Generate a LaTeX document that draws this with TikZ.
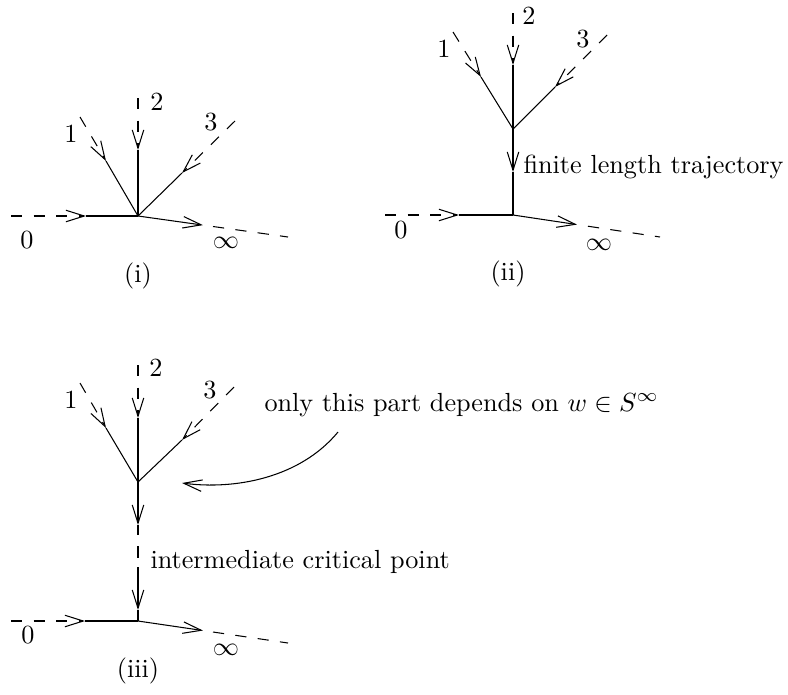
\documentclass[tikz,border=0pt]{standalone}
\usetikzlibrary{arrows.meta,calc}
\begin{document}
\begin{tikzpicture}[x=0.3817pt,y=-0.3817pt,line width=0.4pt,
  dsh/.style={dash pattern=on 4.3pt off 4.3pt},
  dshb/.style={dash pattern=on 4.3pt off 4.3pt,dash phase=4.3pt},
  tip/.style={-{Straight Barb[length=7pt,width=4.4pt]}},
  lbl/.style={inner sep=0pt,anchor=base},
  txt/.style={inner sep=0pt,anchor=base west}]
\useasboundingbox (0,0) rectangle (788,694);

% ---------- (i) ----------
\coordinate (Ja) at (138,216);
\coordinate (La) at (11,216);   \coordinate (LTa) at (86,216);
\coordinate (Ea) at (288,237);
\coordinate (RTa) at ($(Ja)!0.433!(Ea)$);
\coordinate (RDa) at ($(Ja)!0.5!(Ea)$);
\coordinate (F1a) at (80,117);  \coordinate (A1a) at (106,161);
\coordinate (F2a) at (138,98);  \coordinate (A2a) at (138,150);
\coordinate (F3a) at (235,121); \coordinate (A3a) at (182,173);
\draw[dsh,tip] (La) -- (LTa);  \draw (LTa) -- (Ja);
\draw[tip] (Ja) -- (RTa);      \draw[dsh] (RDa) -- (Ea);
\draw[dsh,tip] (F1a) -- (A1a); \draw (A1a) -- (Ja);
\draw[dsh,tip] (F2a) -- (A2a); \draw (A2a) -- (Ja);
\draw[dsh,tip] (F3a) -- (A3a); \draw (A3a) -- (Ja);
\node[lbl] (n0a) at (27,248) {0};
\node[lbl] (nia) at (226,248) {$\infty$};
\node[lbl] (n1a) at (71,142) {1};
\node[lbl] (n2a) at (157,110) {2};
\node[lbl] (n3a) at (211,130) {3};
\node[lbl] (capa) at (138,282) {(i)};

% ---------- (ii) ----------
\coordinate (Jb) at (513,129);
\coordinate (Bb) at (513,215);
\coordinate (Lb) at (385,215);  \coordinate (LTb) at (459,215);
\coordinate (Eb) at (660,237);
\coordinate (RTb) at ($(Bb)!0.435!(Eb)$);
\coordinate (RDb) at ($(Bb)!0.51!(Eb)$);
\coordinate (F1b) at (453,32);  \coordinate (A1b) at (481,77);
\coordinate (F2b) at (513,13);  \coordinate (A2b) at (513,65);
\coordinate (F3b) at (607,35);  \coordinate (A3b) at (555,87);
\coordinate (DTb) at (513,172);
\draw[dsh,tip] (Lb) -- (LTb);  \draw (LTb) -- (Bb);
\draw[tip] (Bb) -- (RTb);      \draw[dsh] (RDb) -- (Eb);
\draw[dsh,tip] (F1b) -- (A1b); \draw (A1b) -- (Jb);
\draw[dsh,tip] (F2b) -- (A2b); \draw (A2b) -- (Jb);
\draw[dsh,tip] (F3b) -- (A3b); \draw (A3b) -- (Jb);
\draw[tip] (Jb) -- (DTb);      \draw (DTb) -- (Bb);
\node[lbl] (n0b) at (401,238) {0};
\node[lbl] (nib) at (599,250) {$\infty$};
\node[lbl] (n1b) at (444,57) {1};
\node[lbl] (n2b) at (529,24) {2};
\node[lbl] (n3b) at (583,47) {3};
\node[txt] (flt) at (523,173) {finite length trajectory};
\node[lbl] (capb) at (508,280) {(ii)};

% ---------- (iii) ----------
\coordinate (Jc) at (138,482);
\coordinate (Bc) at (138,621);
\coordinate (Lc) at (11,621);   \coordinate (LTc) at (85,621);
\coordinate (Ec) at (288,643);
\coordinate (RTc) at ($(Bc)!0.433!(Ec)$);
\coordinate (RDc) at ($(Bc)!0.5!(Ec)$);
\coordinate (F1c) at (80,383);  \coordinate (A1c) at (106,428);
\coordinate (F2c) at (138,365); \coordinate (A2c) at (138,418);
\coordinate (F3c) at (234,387); \coordinate (A3c) at (182,440);
\coordinate (DT1c) at (138,525); \coordinate (M1c) at (138,535);
\coordinate (M2c) at (138,567);  \coordinate (DT2c) at (138,610);
\draw[dsh,tip] (Lc) -- (LTc);  \draw (LTc) -- (Bc);
\draw[tip] (Bc) -- (RTc);      \draw[dsh] (RDc) -- (Ec);
\draw[dsh,tip] (F1c) -- (A1c); \draw (A1c) -- (Jc);
\draw[dsh,tip] (F2c) -- (A2c); \draw (A2c) -- (Jc);
\draw[dsh,tip] (F3c) -- (A3c); \draw (A3c) -- (Jc);
\draw[tip] (Jc) -- (DT1c);     \draw (DT1c) -- (M1c);
\draw[dshb] (M1c) -- (M2c);
\draw[tip] (M2c) -- (DT2c);    \draw (DT2c) -- (Bc);
\node[lbl] (n0c) at (28,643) {0};
\node[lbl] (nic) at (226,655) {$\infty$};
\node[lbl] (n1c) at (71,408) {1};
\node[lbl] (n2c) at (156,376) {2};
\node[lbl] (n3c) at (210,398) {3};
\node[txt] (icp) at (150,568) {intermediate critical point};
\node[txt] (otp) at (264,411) {only this part depends on $w\in S^\infty$};
\coordinate (CSc) at (338,432);
\coordinate (CTc) at (182,483);
\draw[tip] (CSc) .. controls (300,478) and (235,490) .. (CTc);
\node[lbl] (capc) at (138,677) {(iii)};
\end{tikzpicture}
\end{document}
